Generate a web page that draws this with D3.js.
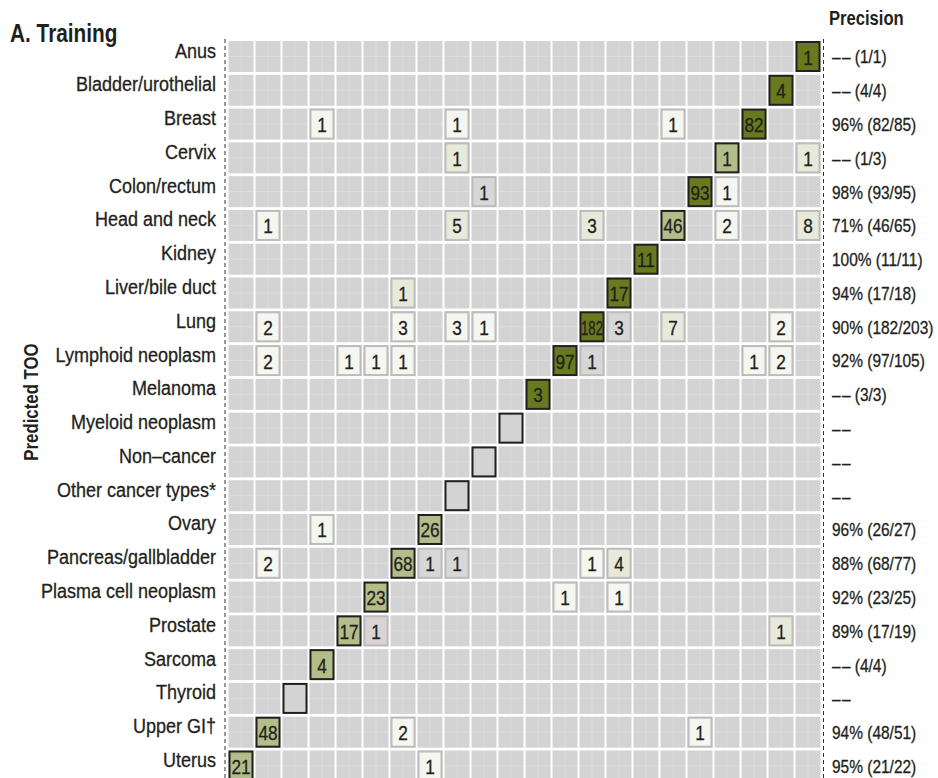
<!DOCTYPE html>
<html>
<head>
<meta charset="utf-8">
<script src="https://cdn.jsdelivr.net/npm/d3@7"></script>
<style>
  body { margin: 0; background: #fff; }
  svg text { font-family: "Liberation Sans", Arial, sans-serif; fill: #231f20; }
  svg text.reg { stroke: #231f20; stroke-width: 0.3; }
</style>
</head>
<body>
<div id="chart"></div>
<script>
const classes = [
    "Anus", "Bladder/urothelial", "Breast", "Cervix", "Colon/rectum", "Head and neck",
    "Kidney", "Liver/bile duct", "Lung", "Lymphoid neoplasm", "Melanoma", "Myeloid neoplasm",
    "Non\u2013cancer", "Other cancer types*", "Ovary", "Pancreas/gallbladder",
    "Plasma cell neoplasm", "Prostate", "Sarcoma", "Thyroid", "Upper GI\u2020", "Uterus"
];

const dash = "\u2013\u200a\u2013";
const precision = [
    dash + " (1/1)", dash + " (4/4)", "96% (82/85)", dash + " (1/3)", "98% (93/95)",
    "71% (46/65)", "100% (11/11)", "94% (17/18)", "90% (182/203)", "92% (97/105)",
    dash + " (3/3)", dash, dash, dash, "96% (26/27)",
    "88% (68/77)", "92% (23/25)", "89% (17/19)", dash + " (4/4)", dash,
    "94% (48/51)", "95% (21/22)"
];

// [predicted index, true index, count, shade level]
// shade: 0 grey, 1 greyish pink, 2 pale, 3 light, 4 medium, 5 dark
const cells = [
    [0, 0, 1, 5],
    [1, 1, 4, 5],
    [2, 18, 1, 2], [2, 13, 1, 2], [2, 5, 1, 2], [2, 2, 82, 5],
    [3, 13, 1, 3], [3, 3, 1, 4], [3, 0, 1, 3],
    [4, 12, 1, 0], [4, 4, 93, 5], [4, 3, 1, 2],
    [5, 20, 1, 2], [5, 13, 5, 3], [5, 8, 3, 3], [5, 5, 46, 4], [5, 3, 2, 2], [5, 0, 8, 3],
    [6, 6, 11, 5],
    [7, 15, 1, 3], [7, 7, 17, 5],
    [8, 20, 2, 2], [8, 15, 3, 2], [8, 13, 3, 2], [8, 12, 1, 2], [8, 8, 182, 5], [8, 7, 3, 0], [8, 5, 7, 3], [8, 1, 2, 2],
    [9, 20, 2, 2], [9, 17, 1, 2], [9, 16, 1, 2], [9, 15, 1, 2], [9, 9, 97, 5], [9, 8, 1, 0], [9, 2, 1, 2], [9, 1, 2, 2],
    [10, 10, 3, 5],
    [11, 11, 0, null],
    [12, 12, 0, null],
    [13, 13, 0, null],
    [14, 18, 1, 2], [14, 14, 26, 4],
    [15, 20, 2, 2], [15, 15, 68, 4], [15, 14, 1, 0], [15, 13, 1, 0], [15, 8, 1, 2], [15, 7, 4, 3],
    [16, 16, 23, 4], [16, 9, 1, 2], [16, 7, 1, 2],
    [17, 17, 17, 4], [17, 16, 1, 1], [17, 1, 1, 3],
    [18, 18, 4, 4],
    [19, 19, 0, null],
    [20, 20, 48, 4], [20, 15, 2, 2], [20, 4, 1, 2],
    [21, 21, 21, 4], [21, 14, 1, 2]
];

const width = 938;
const height = 778;

const svg = d3.select("#chart").append("svg")
    .attr("width", width).attr("height", height);

// no condensed face installed, so narrow the glyphs ourselves
function squeeze(sel, k, maxW) {
    sel.each(function () {
        let w = this.getComputedTextLength() * k;
        if (maxW && w > maxW) w = maxW;
        d3.select(this)
            .attr("textLength", w)
            .attr("lengthAdjust", "spacingAndGlyphs");
    });
}

// columns run from last class on the left to first class on the right
const x = d3.scaleBand()
    .domain(d3.range(classes.length).reverse())
    .range([227.5, 821.5])
    .paddingInner(0.074)
    .paddingOuter(0.037);

const y = d3.scaleBand()
    .domain(d3.range(classes.length))
    .range([39.6, 782.9])
    .paddingInner(0.083)
    .paddingOuter(0.042);

const shade = d3.scaleOrdinal()
    .domain([0, 1, 2, 3, 4, 5])
    .range(["#d7d7d7", "#d9d3d3", "#f4f6ef", "#e7eada", "#b2bd89", "#687a1d"]);

// background tiles
const bg = svg.append("g");
classes.forEach((c, r) => {
    bg.selectAll(null)
        .data(d3.range(classes.length))
        .join("rect")
        .attr("x", t => x(t))
        .attr("y", y(r))
        .attr("width", x.bandwidth())
        .attr("height", y.bandwidth())
        .attr("fill", "#d3d3d3");
});

// faint grid lines through the centres
const grid = svg.append("g").attr("stroke", "#fff").attr("stroke-opacity", 0.28).attr("stroke-width", 0.8);
grid.selectAll("line.v")
    .data(d3.range(classes.length))
    .join("line")
    .attr("x1", t => x(t) + x.bandwidth() / 2)
    .attr("x2", t => x(t) + x.bandwidth() / 2)
    .attr("y1", y.range()[0]).attr("y2", y.range()[1]);
grid.selectAll("line.h")
    .data(d3.range(classes.length))
    .join("line")
    .attr("x1", x.range()[0]).attr("x2", x.range()[1])
    .attr("y1", r => y(r) + y.bandwidth() / 2)
    .attr("y2", r => y(r) + y.bandwidth() / 2);

// dashed panel edges
svg.selectAll("line.edge")
    .data([225, 823.5])
    .join("line")
    .attr("x1", d => d).attr("x2", d => d)
    .attr("y1", 39).attr("y2", height)
    .attr("stroke", "#333")
    .attr("stroke-width", 1)
    .attr("stroke-dasharray", "4,3");

// count tiles
const tile = svg.append("g").selectAll("g")
    .data(cells)
    .join("g");

tile.append("rect")
    .attr("x", d => x(d[1]) + 1)
    .attr("y", d => y(d[0]) + 1)
    .attr("width", x.bandwidth() - 2)
    .attr("height", y.bandwidth() - 2)
    .attr("fill", d => d[3] == null ? "#d3d3d3" : shade(d[3]))
    .attr("stroke", d => d[0] === d[1] ? "#231f20" : "#bcbcbc")
    .attr("stroke-width", 2);

tile.filter(d => d[2] > 0).append("text")
    .attr("class", "reg")
    .attr("x", d => x(d[1]) + x.bandwidth() / 2)
    .attr("y", d => y(d[0]) + y.bandwidth() / 2 + 1)
    .attr("text-anchor", "middle")
    .attr("dominant-baseline", "central")
    .attr("font-size", 20)
    .text(d => d[2])
    .call(squeeze, 0.86, x.bandwidth() - 3);

// row labels
svg.append("g").selectAll("text")
    .data(classes)
    .join("text")
    .attr("class", "reg")
    .attr("x", 216)
    .attr("y", (d, i) => y(i) + y.bandwidth() / 2 - 6)
    .attr("text-anchor", "end")
    .attr("dominant-baseline", "central")
    .attr("font-size", 20)
    .text(d => d)
    .call(squeeze, 0.9);

// precision column, narrowed with a scale so its box stays inside the page
svg.append("g").selectAll("text")
    .data(precision)
    .join("text")
    .attr("class", "reg")
    .attr("transform", (d, i) => `translate(832,${y(i) + y.bandwidth() / 2 + 1}) scale(0.86,1)`)
    .attr("dominant-baseline", "central")
    .attr("font-size", 18)
    .text(d => d);

svg.append("text")
    .attr("x", 10).attr("y", 42)
    .attr("font-size", 26).attr("font-weight", "bold")
    .text("A. Training")
    .call(squeeze, 0.8);

svg.append("text")
    .attr("x", 829).attr("y", 25)
    .attr("font-size", 20).attr("font-weight", "bold")
    .text("Precision")
    .call(squeeze, 0.83);

svg.append("text")
    .attr("transform", "translate(38,402) rotate(-90)")
    .attr("text-anchor", "middle")
    .attr("font-size", 21).attr("font-weight", "bold")
    .text("Predicted TOO")
    .call(squeeze, 0.8);
</script>
</body>
</html>
